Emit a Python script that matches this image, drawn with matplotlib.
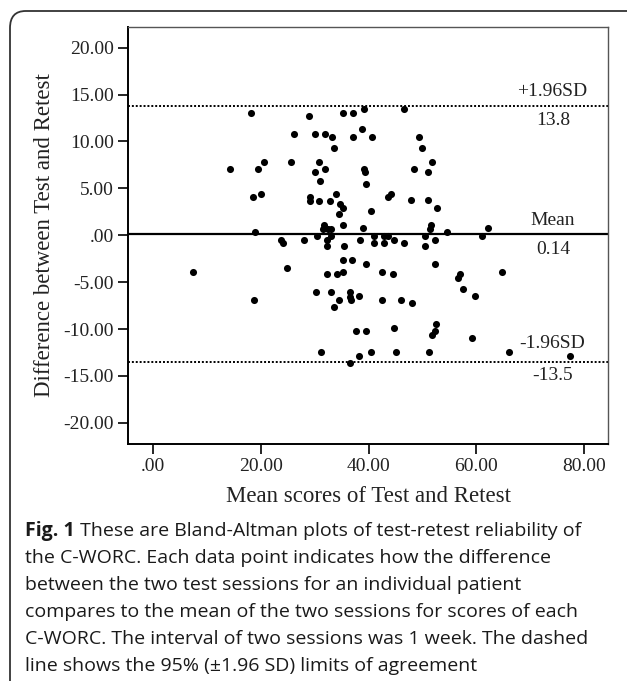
import matplotlib
matplotlib.use("Agg")
import matplotlib.pyplot as plt
from matplotlib.patches import FancyBboxPatch

# Bland-Altman data: mean of test/retest vs difference
mean_scores = [
    18.2, 28.9, 35.2, 37.2, 39.1,
    26.2, 30.0, 32.0, 33.2, 37.2, 38.8, 33.6,
    14.3, 19.5, 20.7, 25.7, 30.9, 30.0, 32.0, 31.0, 39.1, 39.4, 39.6,
    18.5, 20.0, 29.1, 29.2, 30.8, 32.8, 34.0, 34.75, 35.3, 34.45,
    35.3, 31.7, 31.6, 32.4, 33.0, 38.9, 18.9,
    46.6, 40.6, 49.3, 49.9, 51.8, 48.4, 51.0,
    43.6, 44.2, 47.9, 51.0, 52.7, 40.4,
    51.6, 51.4, 54.6, 62.1, 61.0, 50.5, 41.0, 42.9, 43.6,
    23.8, 24.1, 28.1, 30.5, 32.3, 32.3, 33.1, 35.4, 38.5,
    35.25, 36.9, 39.6, 7.5, 24.9, 32.3, 34.1, 35.25,
    30.2, 33.0, 18.7, 34.6, 33.6, 36.6, 36.6, 36.8, 38.2,
    37.6, 39.6, 31.1, 38.2, 36.5,
    41.1, 42.9, 44.7, 46.5, 50.5, 52.4,
    42.5, 44.5, 52.3, 56.9, 56.5, 57.6, 59.7, 64.8,
    42.5, 46.0, 48.1, 44.7, 52.6, 52.3, 51.8, 59.1,
    40.5, 45.0, 51.2, 66.0, 77.3,
]
differences = [
    13.0, 12.7, 13.0, 13.0, 13.5,
    10.8, 10.8, 10.8, 10.5, 10.5, 11.3, 9.3,
    7.1, 7.1, 7.85, 7.85, 7.85, 6.75, 7.1, 5.8, 7.1, 6.7, 5.5,
    4.05, 4.45, 4.05, 3.7, 3.7, 3.7, 4.4, 3.35, 2.95, 2.25,
    1.07, 1.07, 0.71, 0.71, 0.71, 0.75, 0.39,
    13.5, 10.45, 10.45, 9.35, 7.85, 7.07, 6.75,
    4.05, 4.45, 3.73, 3.73, 2.95, 2.56,
    1.07, 0.71, 0.35, 0.75, -0.07, -0.07, -0.07, -0.07, -0.07,
    -0.5, -0.8, -0.47, -0.04, -0.5, -1.14, -0.07, -1.14, -0.5,
    -2.67, -2.67, -3.06, -3.88, -3.5, -4.16, -4.16, -3.9,
    -6.08, -6.08, -6.9, -6.9, -7.6, -6.08, -6.54, -6.9, -6.5,
    -10.17, -10.17, -12.47, -12.87, -13.58,
    -0.85, -0.85, -0.5, -0.85, -1.14, -0.5,
    -3.88, -4.16, -3.06, -4.16, -4.58, -5.69, -6.5, -3.88,
    -6.9, -6.9, -7.18, -9.85, -9.46, -10.17, -10.6, -10.98,
    -12.47, -12.47, -12.47, -12.47, -12.87,
]

mean_diff = 0.14
upper_loa = 13.8
lower_loa = -13.5

x_ticks = [0, 20, 40, 60, 80]
x_ticklabels = [".00", "20.00", "40.00", "60.00", "80.00"]
y_ticks = [20, 15, 10, 5, 0, -5, -10, -15, -20]
y_ticklabels = ["20.00", "15.00", "10.00", "5.00", ".00", "-5.00", "-10.00", "-15.00", "-20.00"]

caption_lines = [
    "These are Bland-Altman plots of test-retest reliability of",
    "the C-WORC. Each data point indicates how the difference",
    "between the two test sessions for an individual patient",
    "compares to the mean of the two sessions for scores of each",
    "C-WORC. The interval of two sessions was 1 week. The dashed",
    "line shows the 95% (\u00b11.96 SD) limits of agreement",
]

serif = "Liberation Serif"
W, H = 627, 681
fig = plt.figure(figsize=(W / 100, H / 100), dpi=100)

# rounded frame around figure + caption (open at right/bottom edge)
frame = FancyBboxPatch((10 / W, -0.05), 1.2, 1 - 11 / H + 0.05,
                       boxstyle="round,pad=0,rounding_size=0.025",
                       transform=fig.transFigure, fill=False,
                       edgecolor="#333333", linewidth=1.3)
fig.add_artist(frame)

ax = fig.add_axes([128 / W, 1 - 444 / H, 480 / W, 417 / H])
ax.scatter(mean_scores, differences, s=26, color="black", zorder=3, linewidths=0)
ax.axhline(mean_diff, color="black", linewidth=1.6, zorder=2)
ax.axhline(upper_loa, color="black", linestyle=(0, (1, 1)), linewidth=1.4, zorder=2)
ax.axhline(lower_loa, color="black", linestyle=(0, (1, 1)), linewidth=1.4, zorder=2)

ax.set_xlim(-4.6, 84.4)
ax.set_ylim(-22.25, 22.2)
ax.set_xticks(x_ticks)
ax.set_xticklabels(x_ticklabels, fontfamily=serif, fontsize=14)
ax.set_yticks(y_ticks)
ax.set_yticklabels(y_ticklabels, fontfamily=serif, fontsize=14)
ax.tick_params(direction="out", length=7, width=1.2, color="black", pad=3,
               labelcolor="#222222")

for side in ["left", "bottom"]:
    ax.spines[side].set_linewidth(1.4)
    ax.spines[side].set_color("black")
for side in ["top", "right"]:
    ax.spines[side].set_linewidth(1.0)
    ax.spines[side].set_color("#555555")

ax.set_xlabel("Mean scores of Test and Retest", fontfamily=serif, fontsize=16.5,
              labelpad=8, color="#222222")
ax.set_ylabel("Difference between Test and Retest", fontfamily=serif, fontsize=16.5,
              labelpad=6, color="#222222")

lbl = dict(fontfamily=serif, fontsize=14, ha="center", va="center", color="#222222")
ax.text(74.0, 15.3, "+1.96SD", **lbl)
ax.text(74.2, 12.2, "13.8", **lbl)
ax.text(74.2, 1.6, "Mean", **lbl)
ax.text(74.2, -1.55, "0.14", **lbl)
ax.text(74.0, -11.5, "-1.96SD", **lbl)
ax.text(74.2, -15.0, "-13.5", **lbl)

# caption, one text per line
cap_font = "Open Sans"
cap_size = 14
y0 = 1 - 531 / H
step = 27 / H
fig_lbl = fig.text(25 / W, y0, "Fig. 1", fontfamily=cap_font, fontsize=cap_size,
                   fontweight="bold", va="center", ha="left", color="#1a1a1a")
ax.annotate(" " + caption_lines[0], xy=(1, 0.5), xycoords=fig_lbl,
            va="center", ha="left", fontfamily=cap_font, fontsize=cap_size,
            annotation_clip=False, color="#1a1a1a")
for i, line in enumerate(caption_lines[1:], start=1):
    fig.text(25 / W, y0 - i * step, line, fontfamily=cap_font, fontsize=cap_size,
             va="center", ha="left", color="#1a1a1a")

fig.savefig("out.png", dpi=100)
